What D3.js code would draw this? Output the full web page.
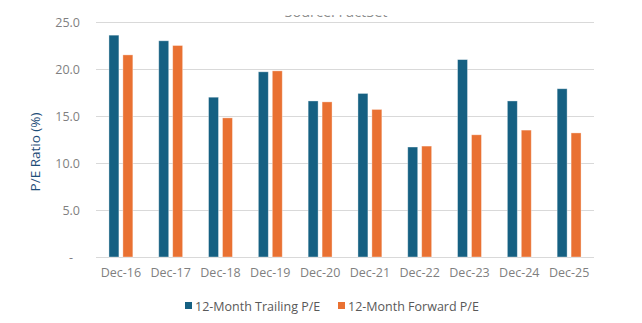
<!DOCTYPE html>
<html>
<head>
<meta charset="utf-8">
<script src="https://cdn.jsdelivr.net/npm/d3@7"></script>
<style>
  html, body { margin: 0; padding: 0; background: #fff; }
  svg { display: block; }
</style>
</head>
<body>
<svg id="chart" width="642" height="323"></svg>
<script>
// P/E ratios at each December, trailing vs. forward
const categories = ["Dec-16","Dec-17","Dec-18","Dec-19","Dec-20","Dec-21","Dec-22","Dec-23","Dec-24","Dec-25"];
const trailingPE = [23.6, 23.0, 17.0, 19.7, 16.6, 17.4, 11.7, 21.0, 16.6, 17.9];
const forwardPE  = [21.5, 22.5, 14.8, 19.8, 16.5, 15.7, 11.8, 13.0, 13.5, 13.2];
const seriesNames = ["12-Month Trailing P/E", "12-Month Forward P/E"];
const yTicks = [0, 5, 10, 15, 20, 25];

const colors = ["#156082", "#E97132"];
const font = "'Open Sans', 'Noto Sans', sans-serif";

const svg = d3.select("#chart");
const margin = { top: 22, left: 96, right: 48, bottom: 66 };
const W = 642, H = 323;
const x0 = margin.left, x1 = W - margin.right;
const yBase = H - margin.bottom;

const x = d3.scaleBand().domain(categories).range([x0, x1]).paddingInner(0.52).paddingOuter(0.26);
const xs = d3.scaleBand().domain([0, 1]).range([0, x.bandwidth()]).paddingInner(0.286);
const y = d3.scaleLinear().domain([0, 25]).range([yBase, margin.top]);

// source note, clipped at the top edge of the chart area
svg.append("clipPath").attr("id", "srcclip")
  .append("rect").attr("x", 0).attr("y", 15).attr("width", W).attr("height", 2.5);
svg.append("text")
  .attr("clip-path", "url(#srcclip)")
  .attr("x", 336).attr("y", 17.2)
  .attr("text-anchor", "middle")
  .attr("font-family", font).attr("font-size", 14.5)
  .attr("fill", "#8c8c8c")
  .text("Source: FactSet");

// gridlines
svg.append("g").selectAll("line").data(yTicks).join("line")
  .attr("x1", x0).attr("x2", x1)
  .attr("y1", d => Math.round(y(d)) + 0.5).attr("y2", d => Math.round(y(d)) + 0.5)
  .attr("stroke", "#d9d9d9").attr("stroke-width", 1.2);

// y axis labels
const yAxis = d3.axisLeft(y).tickValues(yTicks).tickSize(0).tickPadding(16)
  .tickFormat(d => d === 0 ? "-" : d3.format(".1f")(d));
const gy = svg.append("g").attr("transform", `translate(${x0},0)`).call(yAxis);
gy.select(".domain").remove();
gy.selectAll("text").attr("font-family", font).attr("font-size", 12.5).attr("fill", "#7f7f7f");
gy.selectAll(".tick").filter(d => d === 0).select("text").attr("dx", -7);

// x axis labels
const xAxis = d3.axisBottom(x).tickSize(0).tickPadding(11);
const gx = svg.append("g").attr("transform", `translate(0,${yBase})`).call(xAxis);
gx.select(".domain").remove();
gx.selectAll("text").attr("font-family", font).attr("font-size", 12.5).attr("fill", "#7f7f7f");

// bars
const series = [trailingPE, forwardPE];
series.forEach((vals, si) => {
  svg.append("g").selectAll("rect").data(vals).join("rect")
    .attr("x", (d, i) => x(categories[i]) + xs(si))
    .attr("y", d => y(d))
    .attr("width", xs.bandwidth())
    .attr("height", d => yBase - y(d))
    .attr("fill", colors[si])
    .attr("stroke", "#ffffff").attr("stroke-opacity", 0.45).attr("stroke-width", 0.8);
});

// y axis title
svg.append("text")
  .attr("transform", `translate(39.5,152) rotate(-90)`)
  .attr("text-anchor", "middle")
  .attr("font-family", font).attr("font-size", 13.5)
  .attr("fill", "#1f4e79")
  .text("P/E Ratio (%)");

// legend
const legend = svg.append("g").attr("transform", `translate(0,${306})`);
const legX = [185, 338];
seriesNames.forEach((name, i) => {
  legend.append("rect").attr("x", legX[i]).attr("y", -4).attr("width", 7).attr("height", 7).attr("fill", colors[i]);
  legend.append("text").attr("x", legX[i] + 10).attr("y", 4.5)
    .attr("font-family", font).attr("font-size", 12.5).attr("fill", "#595959")
    .text(name);
});
</script>
</body>
</html>
